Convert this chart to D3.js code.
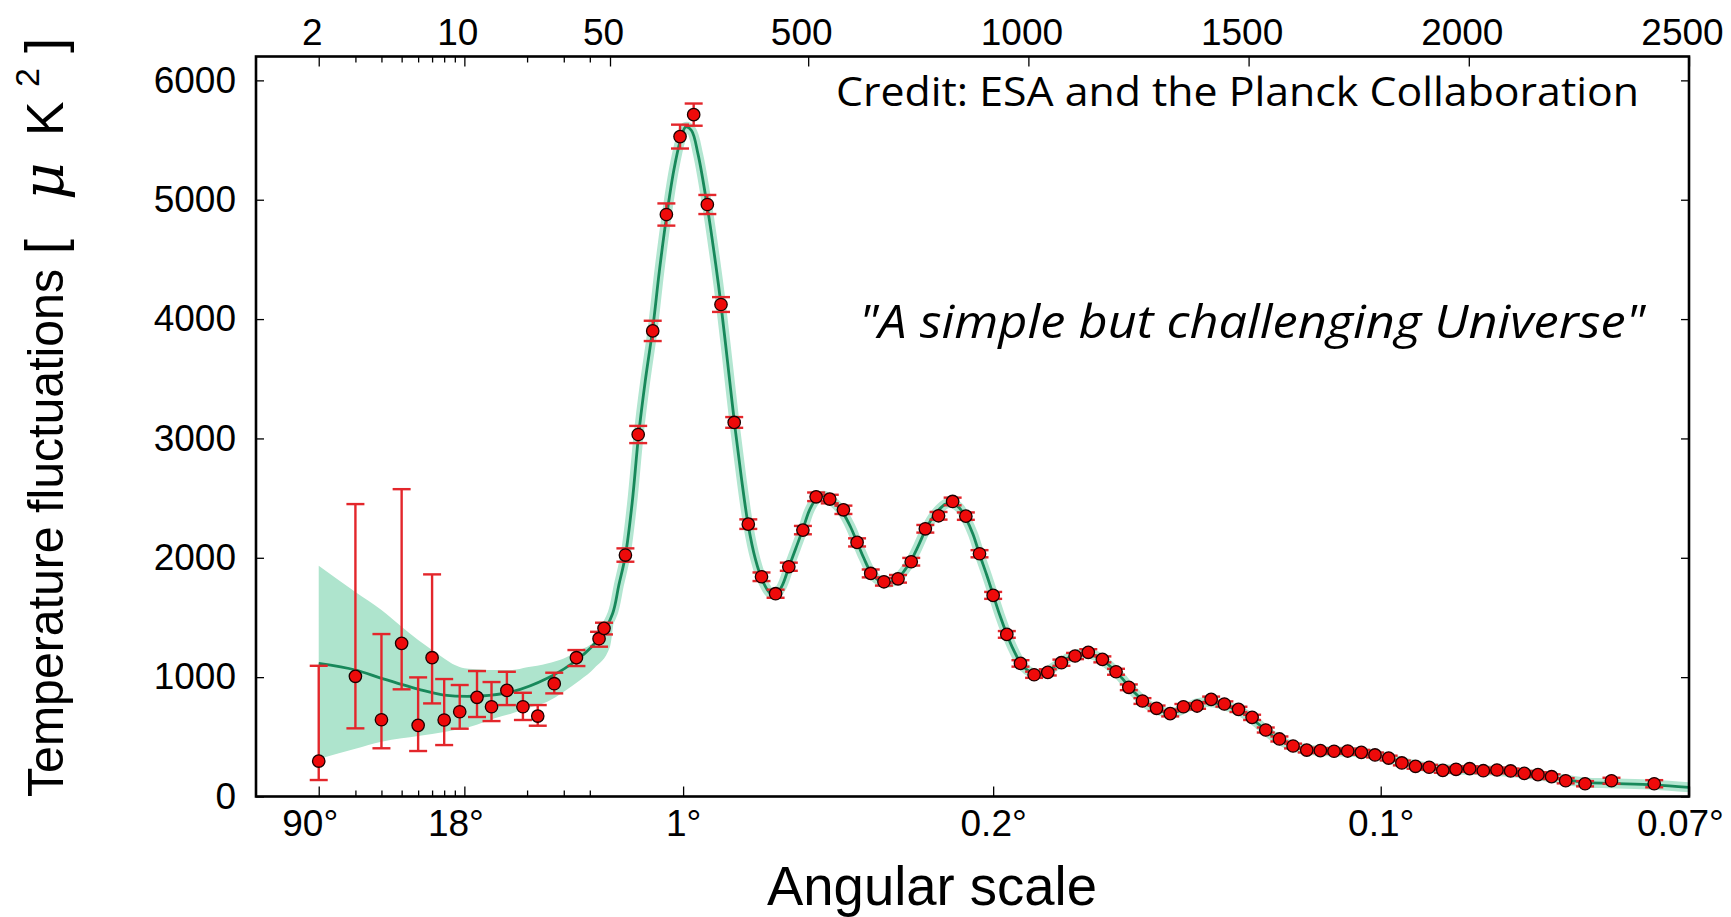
<!DOCTYPE html>
<html><head><meta charset="utf-8">
<script src="https://cdn.jsdelivr.net/npm/d3@7"></script>
<style>html,body{margin:0;padding:0;background:#fff;} svg{display:block}</style>
</head><body><svg id="c" width="1731" height="917"></svg>
<script>
// ---------- data ----------
const lowEll = [2,3,4,5,6,7,8,9.5,11.5,13.5,16,19.1,22.5,27,34.5,44.3,46.8];
const lowD   = [297,1007,643,1283,596,1163,641,710,831,752,889,752,674,945,1163,1322,1409];
const lowHi  = [1095,2450,1361,2575,998,1861,984,934,1051,959,1045,869,766,1037,1227,1380,1456];
const lowLo  = [138,571,404,898,381,780,431,568,666,632,766,641,593,864,1093,1255,1358];

const hiEll = [85,114,147,178,209,240,271,302,332,364,394,426,456,488,518,549,580,611,642,672,704,734,766,796,828,858,889,920,951,982,1013,1044,1075,1106,1136,1168,1199,1228,1259,1291,1322,1352,1383,1415,1445,1477,1508,1539,1570,1601,1632,1663,1694,1725,1756,1787,1818,1848,1879,1910,1941,1971,2002,2033,2064,2095,2126,2157,2188,2220,2264,2324,2421];
const hiD   = [2023,3033,3901,4876,5529,5713,4960,4122,3134,2282,1841,1699,1925,2232,2511,2492,2402,2129,1869,1799,1824,1967,2243,2352,2472,2349,2034,1685,1358,1115,1020,1040,1121,1177,1208,1149,1045,915,800,739,694,752,758,814,775,730,663,557,482,423,389,384,379,381,370,348,322,281,253,245,219,228,233,216,222,214,194,183,166,132,107,132,107];
const hiErr = [56,72,85,93,100,93,80,62,45,40,36,34,34,35,36,36,35,34,33,32,32,32,32,32,32,31,30,29,28,27,26,26,26,26,26,25,25,24,24,23,23,23,23,23,22,22,22,21,21,20,20,20,20,20,20,20,20,20,20,20,20,20,20,20,20,20,20,20,20,22,22,25,30];

const modelEll = [2,3,4,6,8,12,17,25,35,45,56,70,85,100,115,130,147,162,178,195,210,222,235,250,271,290,302,317,332,348,364,380,395,412,425,440,456,472,488,503,518,535,549,565,580,596,611,626,642,657,672,688,704,719,734,750,766,781,796,812,825,843,858,874,889,905,920,935,951,966,982,997,1013,1028,1044,1060,1075,1090,1106,1121,1136,1152,1168,1183,1199,1214,1229,1244,1259,1275,1291,1306,1322,1337,1352,1368,1383,1399,1415,1430,1445,1461,1477,1492,1508,1523,1539,1554,1570,1585,1601,1632,1663,1694,1725,1756,1787,1818,1848,1879,1910,1941,1971,2002,2033,2064,2095,2126,2157,2188,2220,2264,2324,2421,2500];
const modelD   = [1115,1060,990,900,850,842,878,990,1150,1340,1534,1770,2020,2450,3030,3480,3920,4400,4850,5250,5500,5610,5580,5380,4940,4460,4120,3640,3150,2680,2270,1990,1820,1710,1690,1760,1920,2080,2240,2400,2490,2520,2490,2440,2370,2260,2130,2000,1880,1820,1790,1795,1830,1895,1980,2100,2230,2330,2400,2450,2460,2420,2330,2200,2030,1860,1690,1520,1360,1230,1120,1060,1030,1030,1050,1090,1125,1160,1185,1200,1200,1180,1145,1100,1045,985,915,860,805,760,730,710,700,710,735,760,780,790,790,780,765,745,720,690,650,605,555,510,475,445,420,395,382,378,375,368,350,322,290,262,242,230,226,224,220,214,205,192,178,162,140,118,110,98,77];

const bandEll = [2,3,4,5,6,7,8,9,10,12,14,17,20,25,30,36,42,50,60,70];
const bandHi  = [1933,1713,1562,1422,1311,1227,1157,1101,1074,1065,1060,1060,1082,1115,1157,1227,1297,1478,1700,1850];
const bandLo  = [314,400,459,487,507,523,540,557,571,613,655,697,739,794,878,976,1074,1255,1510,1690];

const topTicks   = [2,10,50,500,1000,1500,2000,2500];
const topLabels  = ["2","10","50","500","1000","1500","2000","2500"];
const minorTicks = [3,4,5,6,7,8,9,20,30,40];
const angTicks   = [2,10,216,920,1800,2500];
const angLabels  = ["90°","18°","1°","0.2°","0.1°","0.07°"];
const yTicks     = [0,1000,2000,3000,4000,5000,6000];

// ---------- layout ----------
const L = 256, R = 1689, T = 56.5, B = 796.5, SPLIT = 610;
const svg = d3.select("#c");
const xLog = d3.scaleLog().domain([1,50]).range([L,SPLIT]);
const xLin = d3.scaleLinear().domain([50,2500]).range([SPLIT,R]);
const x = l => l <= 50 ? xLog(l) : xLin(l);
const y = d3.scaleLinear().domain([0,6200]).range([B,T]);

const tickFont = "'Liberation Sans', Arial, sans-serif";
const FS = 37;

svg.append("defs").append("clipPath").attr("id","clip")
  .append("rect").attr("x",L).attr("y",T).attr("width",R-L).attr("height",B-T);

const plot = svg.append("g").attr("clip-path","url(#clip)");

// band
const bandData = bandEll.map((l,i)=>({l, hi:bandHi[i], lo:bandLo[i]}));
plot.append("path").datum(bandData)
  .attr("fill","#aee4cd")
  .attr("d", d3.area().x(d=>x(d.l)).y0(d=>y(d.lo)).y1(d=>y(d.hi)).curve(d3.curveMonotoneX));

// model
const modelData = modelEll.map((l,i)=>({l, d:modelD[i]}));
const line = d3.line().x(d=>x(d.l)).y(d=>y(d.d)).curve(d3.curveCatmullRom.alpha(0.5));
plot.append("path").datum(modelData.filter(d=>d.l>=45))
  .attr("fill","none").attr("stroke","#b3e6d1").attr("stroke-width",10)
  .attr("stroke-linejoin","round").attr("d",line);
plot.append("path").datum(modelData)
  .attr("fill","none").attr("stroke","#17885a").attr("stroke-width",2.8).attr("d",line);

// data points
const pts = lowEll.map((l,i)=>({l, d:lowD[i], hi:lowHi[i], lo:lowLo[i]}))
  .concat(hiEll.map((l,i)=>({l, d:hiD[i], hi:hiD[i]+hiErr[i], lo:hiD[i]-hiErr[i]})));
const eb = svg.append("g").attr("stroke","#e3262b").attr("stroke-width",2.4);
const cap = 9;
pts.forEach(p=>{
  const cx = x(p.l);
  eb.append("line").attr("x1",cx).attr("x2",cx).attr("y1",y(p.lo)).attr("y2",y(p.hi));
  eb.append("line").attr("x1",cx-cap).attr("x2",cx+cap).attr("y1",y(p.lo)).attr("y2",y(p.lo));
  eb.append("line").attr("x1",cx-cap).attr("x2",cx+cap).attr("y1",y(p.hi)).attr("y2",y(p.hi));
});
svg.append("g").selectAll("circle").data(pts).join("circle")
  .attr("cx",d=>x(d.l)).attr("cy",d=>y(d.d)).attr("r",6.2)
  .attr("fill","#ee0a0a").attr("stroke","#1a0000").attr("stroke-width",1.3);

// ---------- axes ----------
function styleAxis(g, dx){
  g.select(".domain").remove();
  g.selectAll(".tick line").attr("stroke","#000").attr("stroke-width",1.3);
  g.selectAll(".tick text").attr("font-family",tickFont).attr("font-size",FS).attr("fill","#000");
  if (dx) g.selectAll(".tick text").attr("dx",(d,i)=>typeof dx==="function"?dx(d,i):dx);
}
const angDx = [-9,-9,0,0,0,-9];
// top axis
svg.append("g").attr("transform",`translate(0,${T})`)
  .call(d3.axisTop(xLog).tickValues(topTicks.slice(0,3)).tickFormat((d,i)=>topLabels[i]).tickSizeInner(-10).tickSizeOuter(0).tickPadding(12))
  .call(g=>styleAxis(g,-7));
svg.append("g").attr("transform",`translate(0,${T})`)
  .call(d3.axisTop(xLin).tickValues(topTicks.slice(3)).tickFormat((d,i)=>topLabels[i+3]).tickSizeInner(-10).tickSizeOuter(0).tickPadding(12))
  .call(g=>styleAxis(g,-7));
svg.append("g").attr("transform",`translate(0,${T})`)
  .call(d3.axisTop(xLog).tickValues(minorTicks).tickFormat("").tickSizeInner(-6).tickSizeOuter(0))
  .call(g=>styleAxis(g));
// bottom axis: angular scale
svg.append("g").attr("transform",`translate(0,${B})`)
  .call(d3.axisBottom(xLog).tickValues(angTicks.slice(0,2)).tickFormat((d,i)=>angLabels[i]).tickSizeInner(-10).tickSizeOuter(0).tickPadding(13))
  .call(g=>styleAxis(g,(d,i)=>angDx[i]));
svg.append("g").attr("transform",`translate(0,${B})`)
  .call(d3.axisBottom(xLin).tickValues(angTicks.slice(2)).tickFormat((d,i)=>angLabels[i+2]).tickSizeInner(-10).tickSizeOuter(0).tickPadding(13))
  .call(g=>styleAxis(g,(d,i)=>angDx[i+2]));
svg.append("g").attr("transform",`translate(0,${B})`)
  .call(d3.axisBottom(xLog).tickValues(minorTicks).tickFormat("").tickSizeInner(-6).tickSizeOuter(0))
  .call(g=>styleAxis(g));
// left / right
svg.append("g").attr("transform",`translate(${L},0)`)
  .call(d3.axisLeft(y).tickValues(yTicks).tickFormat(d3.format("d")).tickSizeInner(-8).tickSizeOuter(0).tickPadding(20))
  .call(g=>styleAxis(g));
svg.append("g").attr("transform",`translate(${R},0)`)
  .call(d3.axisRight(y).tickValues(yTicks).tickFormat("").tickSizeInner(-8).tickSizeOuter(0))
  .call(g=>styleAxis(g));

// frame
svg.append("rect").attr("x",L).attr("y",T).attr("width",R-L).attr("height",B-T)
  .attr("fill","none").attr("stroke","#000").attr("stroke-width",2.6);

// ---------- titles ----------
const yg = svg.append("g").attr("transform","translate(63,0) rotate(-90)")
  .attr("font-family",tickFont).attr("font-size",50).attr("fill","#000");
yg.append("text").attr("x",-797).attr("y",0)
  .attr("textLength",528).attr("lengthAdjust","spacingAndGlyphs").text("Temperature fluctuations");
yg.append("text").attr("x",-254).attr("y",0).attr("font-size",54).text("[");
yg.append("text").attr("x",-200).attr("y",0).attr("font-style","italic")
  .attr("font-family","'DejaVu Serif', serif").attr("font-size",58).text("μ");
yg.append("text").attr("x",-136).attr("y",0).attr("font-size",52).text("K");
yg.append("text").attr("x",-87).attr("y",-24).attr("font-size",34).text("2");
yg.append("text").attr("x",-53).attr("y",0).attr("font-size",54).text("]");

svg.append("text").attr("x",767).attr("y",905)
  .attr("font-family",tickFont).attr("font-size",55).attr("fill","#000")
  .attr("textLength",330).attr("lengthAdjust","spacingAndGlyphs").text("Angular scale");

svg.append("text").attr("x",836).attr("y",106)
  .attr("font-family","'Open Sans', sans-serif").attr("font-size",40).attr("fill","#000")
  .attr("textLength",803).attr("lengthAdjust","spacingAndGlyphs")
  .text("Credit: ESA and the Planck Collaboration");
svg.append("text").attr("x",859).attr("y",338)
  .attr("font-family","'Open Sans', sans-serif").attr("font-style","italic").attr("font-size",46).attr("fill","#000")
  .attr("textLength",786).attr("lengthAdjust","spacingAndGlyphs")
  .text("\"A simple but challenging Universe\"");
</script></body></html>
